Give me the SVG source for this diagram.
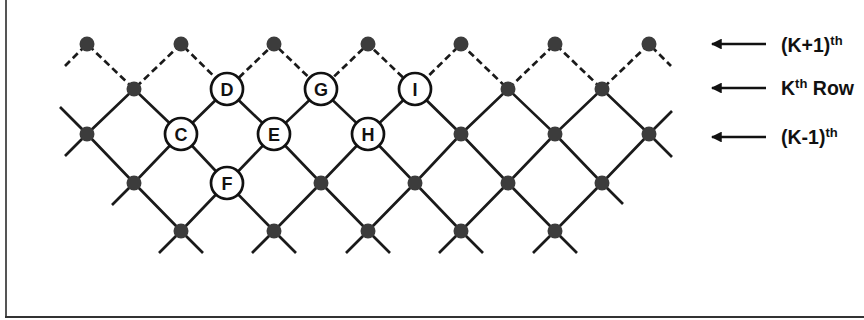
<svg xmlns="http://www.w3.org/2000/svg" width="864" height="320" viewBox="0 0 864 320">
<defs>
<style>
.e{fill:none;stroke:#1a1a1a;stroke-width:2.7;stroke-linejoin:miter}
.d{stroke-dasharray:7 4}
.dot{fill:#3c3c3c}
.c{fill:#fff;stroke:#111;stroke-width:2.7}
.lt{font-family:"Liberation Sans",Arial,sans-serif;font-weight:bold;font-size:18px;fill:#111;text-anchor:middle}
.lbl{font-family:"Liberation Sans",Arial,sans-serif;font-weight:bold;font-size:19.5px;fill:#111}
.sup{font-size:13px}
.ar{stroke:#111;stroke-width:2.7}
</style>
<marker id="ah" viewBox="0 0 10 10" refX="9" refY="5" markerWidth="4" markerHeight="4" orient="auto" markerUnits="strokeWidth">
<path d="M0,0 L10,5 L0,10 Z" fill="#111"/>
</marker>
</defs>
<rect x="0" y="0" width="864" height="320" fill="#fff"/>
<g id="frame">
<line x1="6" y1="0" x2="6" y2="317" stroke="#555" stroke-width="2"/>
<line x1="5" y1="317" x2="864" y2="317" stroke="#333" stroke-width="2"/>
</g>
<g id="connectors">
<polyline class="e d" points="65,66 87,44 134,89 181,44 227,89 274,44 321,89 368,44 415,89 461,44 508,89 555,44 602,89 649,44 671,66"/>
<polyline class="e" points="60,107 87,134 134,89 181,134 227,89 274,134 321,89 368,134 415,89 461,134 508,89 555,134 602,89 649,134 672,111"/>
<polyline class="e" points="65,156 87,134 134,183 181,134 227,183 274,134 321,183 368,134 415,183 461,134 508,183 555,134 602,183 649,134 672,157"/>
<polyline class="e" points="112,205 134,183 181,231 227,183 274,231 321,183 368,231 415,183 461,231 508,183 555,231 602,183 623,204"/>
<path class="e" d="M159,253 L181,231 L203,253 M252,253 L274,231 L296,253 M346,253 L368,231 L390,253 M439,253 L461,231 L483,253 M533,253 L555,231 L577,253"/>
<line class="ar" x1="766" y1="44" x2="712" y2="44" marker-end="url(#ah)"/>
<line class="ar" x1="766" y1="88" x2="712" y2="88" marker-end="url(#ah)"/>
<line class="ar" x1="766" y1="137" x2="712" y2="137" marker-end="url(#ah)"/>
</g>
<g id="dots">
<circle class="dot" cx="87" cy="44" r="7.5"/><circle class="dot" cx="181" cy="44" r="7.5"/><circle class="dot" cx="274" cy="44" r="7.5"/><circle class="dot" cx="368" cy="44" r="7.5"/><circle class="dot" cx="461" cy="44" r="7.5"/><circle class="dot" cx="555" cy="44" r="7.5"/><circle class="dot" cx="649" cy="44" r="7.5"/>
<circle class="dot" cx="134" cy="89" r="7.5"/><circle class="dot" cx="508" cy="89" r="7.5"/><circle class="dot" cx="602" cy="89" r="7.5"/>
<circle class="dot" cx="87" cy="134" r="7.5"/><circle class="dot" cx="461" cy="134" r="7.5"/><circle class="dot" cx="555" cy="134" r="7.5"/><circle class="dot" cx="649" cy="134" r="7.5"/>
<circle class="dot" cx="134" cy="183" r="7.5"/><circle class="dot" cx="321" cy="183" r="7.5"/><circle class="dot" cx="415" cy="183" r="7.5"/><circle class="dot" cx="508" cy="183" r="7.5"/><circle class="dot" cx="602" cy="183" r="7.5"/>
<circle class="dot" cx="181" cy="231" r="7.5"/><circle class="dot" cx="274" cy="231" r="7.5"/><circle class="dot" cx="368" cy="231" r="7.5"/><circle class="dot" cx="461" cy="231" r="7.5"/><circle class="dot" cx="555" cy="231" r="7.5"/>
</g>
<g id="node-C"><circle class="c" cx="181" cy="134" r="16"/><text class="lt" x="181" y="140.5">C</text></g>
<g id="node-D"><circle class="c" cx="227" cy="89" r="16"/><text class="lt" x="227" y="95.5">D</text></g>
<g id="node-E"><circle class="c" cx="274" cy="134" r="16"/><text class="lt" x="274" y="140.5">E</text></g>
<g id="node-F"><circle class="c" cx="227" cy="183" r="16"/><text class="lt" x="227" y="189.5">F</text></g>
<g id="node-G"><circle class="c" cx="321" cy="89" r="16"/><text class="lt" x="321" y="95.5">G</text></g>
<g id="node-H"><circle class="c" cx="368" cy="134" r="16"/><text class="lt" x="368" y="140.5">H</text></g>
<g id="node-I"><circle class="c" cx="415" cy="89" r="16"/><text class="lt" x="415" y="95.5">I</text></g>
<g id="labels">
<text class="lbl" x="781" y="52">(K+1)<tspan class="sup" dy="-7">th</tspan></text>
<text class="lbl" x="781" y="95">K<tspan class="sup" dy="-7">th</tspan><tspan dy="7"> Row</tspan></text>
<text class="lbl" x="781" y="144">(K-1)<tspan class="sup" dy="-7">th</tspan></text>
</g>
</svg>
